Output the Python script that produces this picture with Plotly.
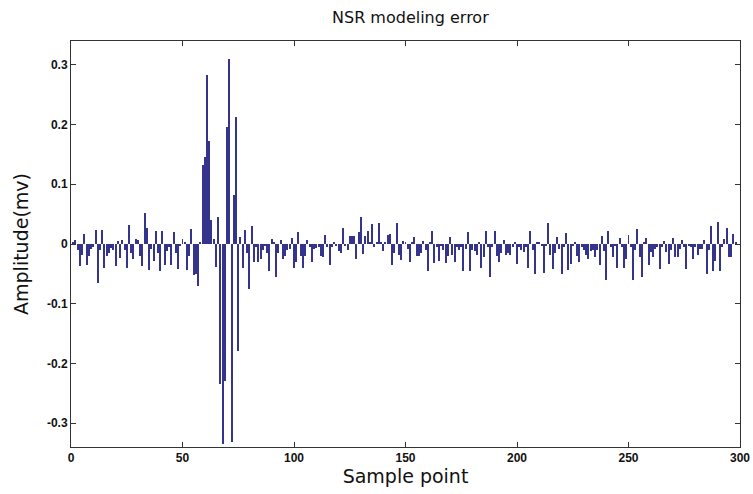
import plotly.graph_objects as go

# Modeling error values in segments of samples
err_000_025 = [0.0, 0.003, 0.007, -0.01, -0.037, -0.018, 0.017, -0.035, -0.02, -0.008, -0.005, 0.023, -0.065,
               -0.01, 0.023, -0.04, -0.02, -0.015, -0.007, -0.01, -0.037, 0.005, -0.023, 0.006, -0.01, -0.04]
err_026_050 = [0.032, -0.015, -0.025, 0.008, 0.006, -0.02, -0.037, 0.052, 0.026, -0.043, -0.008, -0.028, 0.022,
               -0.015, -0.045, 0.022, -0.035, -0.012, -0.005, -0.035, 0.02, -0.015, -0.042, -0.003, 0.008]
err_051_080 = [0.004, -0.044, -0.02, 0.025, -0.052, -0.05, -0.07, 0.003, 0.133, 0.145, 0.283, 0.173, 0.04, 0.008,
               -0.038, 0.046, -0.235, -0.335, -0.23, 0.196, 0.31, -0.332, 0.082, 0.213, -0.18, 0.012, -0.04, 0.023,
               -0.015, -0.075]
err_081_100 = [0.03, -0.03, -0.005, -0.03, -0.025, -0.01, -0.003, -0.015, -0.045, 0.009, 0.003, -0.055, -0.015,
               0.006, -0.025, -0.02, -0.01, -0.008, 0.01, -0.04]
err_101_125 = [-0.03, 0.02, -0.02, -0.04, -0.02, 0.007, -0.005, -0.03, -0.008, -0.007, -0.005, -0.02, -0.022,
               0.015, -0.005, -0.035, -0.005, 0.004, -0.002, -0.012, -0.015, 0.027, -0.002, -0.01, 0.014]
err_126_151 = [0.013, 0.013, -0.025, 0.02, 0.045, -0.017, 0.013, 0.022, 0.003, 0.033, -0.005, 0.002, 0.036,
               0.002, -0.012, 0.003, 0.015, 0.016, -0.035, -0.015, 0.035, -0.018, -0.027, 0.005, 0.002, -0.008]
err_152_176 = [-0.03, 0.003, 0.012, -0.02, -0.02, -0.015, 0.005, -0.01, -0.045, 0.003, 0.022, -0.032, -0.005,
               -0.028, -0.003, -0.01, -0.032, -0.02, 0.012, -0.018, -0.03, -0.005, -0.01, -0.005, -0.045]
err_177_201 = [-0.008, 0.02, -0.045, -0.01, -0.012, -0.018, 0.003, -0.04, -0.022, 0.022, -0.005, -0.055, -0.005,
               0.022, -0.02, -0.03, -0.015, 0.006, -0.018, -0.015, -0.018, -0.005, 0.003, -0.033, -0.005]
err_202_226 = [-0.01, -0.013, -0.005, -0.04, 0.022, -0.01, -0.05, 0.002, 0.002, -0.002, -0.048, -0.003, 0.035,
               -0.018, -0.042, -0.015, 0.012, -0.008, -0.05, -0.005, 0.018, -0.043, -0.033, -0.002, 0.002]
err_227_251 = [-0.02, -0.03, -0.005, -0.01, -0.018, -0.025, -0.012, -0.01, -0.022, -0.01, -0.035, 0.013, -0.012,
               -0.06, 0.022, -0.005, -0.022, -0.003, -0.04, 0.01, -0.005, -0.04, -0.025, 0.015, -0.005]
err_252_276 = [-0.06, -0.01, 0.025, -0.022, -0.055, 0.003, 0.01, -0.035, -0.013, -0.022, -0.008, -0.005, -0.042,
               -0.005, 0.005, -0.013, -0.033, -0.01, 0.01, -0.022, -0.022, -0.008, 0.007, -0.005, -0.042]
err_277_299 = [-0.002, -0.005, -0.025, -0.005, -0.018, -0.008, -0.008, 0.007, -0.05, -0.01, 0.03, -0.046, -0.028,
               0.037, -0.045, -0.005, 0.008, 0.027, -0.022, -0.022, 0.017, 0.002, 0.0]

errors = (err_000_025 + err_026_050 + err_051_080 + err_081_100 + err_101_125 + err_126_151 +
          err_152_176 + err_177_201 + err_202_226 + err_227_251 + err_252_276 + err_277_299)
samples = list(range(len(errors)))

x_ticks = [0, 50, 100, 150, 200, 250, 300]
y_ticks = [-0.3, -0.2, -0.1, 0, 0.1, 0.2, 0.3]
y_tick_labels = ["-0.3", "-0.2", "-0.1", "0", "0.1", "0.2", "0.3"]

fig = go.Figure()
fig.add_trace(go.Bar(x=samples, y=errors, width=0.45,
                     marker=dict(color="#34348c", line=dict(width=0))))

axis_common = dict(showline=True, linecolor="#333333", linewidth=1, mirror="ticks",
                   ticks="inside", ticklen=5, tickcolor="#333333", showgrid=False, zeroline=False,
                   automargin=False,
                   tickfont=dict(family="Liberation Sans", size=12, color="#111111", weight="bold"))

fig.update_layout(
    width=753, height=494,
    paper_bgcolor="white", plot_bgcolor="white",
    margin=dict(l=71, r=13, t=41, b=47),
    showlegend=False,
    bargap=0,
    title=dict(text="NSR modeling error", x=0.545, xanchor="center", y=0.965, yanchor="middle",
               yref="container",
               font=dict(family="DejaVu Sans", size=16, color="#111111")),
    xaxis=dict(range=[0, 300], tickvals=x_ticks,
               title=dict(text="Sample point", font=dict(family="DejaVu Sans", size=19, color="#111111"),
                          standoff=0),
               **axis_common),
    yaxis=dict(range=[-0.34, 0.34], tickvals=y_ticks, ticktext=y_tick_labels,
               title=dict(text="Amplitude(mv)", font=dict(family="DejaVu Sans", size=19, color="#111111"),
                          standoff=13),
               **axis_common),
)

# remove the default page margin so the figure fills the window exactly
fig.write_html("out.html", config={"displayModeBar": False},
               post_script="document.body.style.margin='0px';")
